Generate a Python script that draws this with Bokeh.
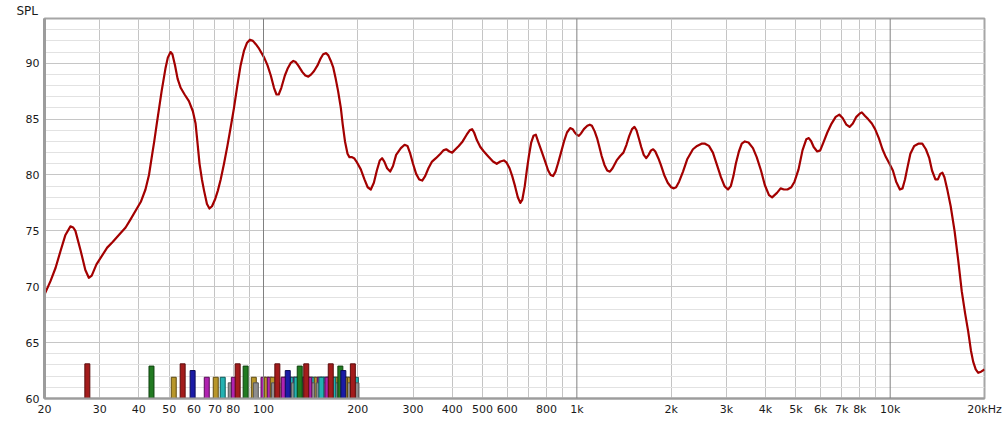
from bokeh.plotting import figure
from bokeh.models import Range1d, FixedTicker, Span, ColumnDataSource, Title
from bokeh.embed import file_html
from bokeh.resources import INLINE

# ---- measured response (Hz, dB SPL) ----
freq = [20.0, 20.9, 21.7, 22.5, 23.3, 24.2, 24.7, 25.1, 26.1, 27.0, 27.7, 28.3, 29.3, 31.7,
        33.0, 35.0, 36.3, 37.6, 40.6, 42.0, 43.1, 44.1, 44.8, 45.6, 47.3, 48.7, 49.5, 50.5,
        51.2, 52.2, 53.2, 54.4, 56.0, 57.8, 59.5, 60.7, 61.5, 62.5, 63.6, 64.6, 66.0, 67.2,
        68.5, 70.0, 71.5, 73.0, 74.8, 76.7, 78.5, 80.5, 82.5, 84.5, 86.6, 88.5, 90.5, 92.5,
        94.5, 96.8, 100.5, 103.0, 105.5, 108.0, 110.0, 111.8, 114.0, 117.0, 119.3, 122.0,
        124.5, 126.7, 129.0, 133.1, 136.0, 139.0, 142.0, 145.0, 148.7, 152.0, 155.0, 158.5,
        161.0, 164.0, 167.0, 170.0, 173.0, 176.5, 179.0, 182.0, 185.4, 188.0, 191.0, 194.6,
        198.0, 204.4, 210.0, 215.0, 220.0, 225.0, 230.0, 235.0, 239.0, 243.0, 248.0, 253.7,
        259.0, 265.0, 274.4, 282.0, 288.0, 294.0, 300.0, 307.0, 314.0, 321.0, 328.0, 336.0,
        345.0, 355.0, 367.0, 375.0, 383.0, 392.0, 400.0, 410.0, 420.0, 432.0, 445.0, 455.0,
        463.0, 470.0, 480.0, 492.0, 505.0, 520.0, 540.0, 555.0, 570.0, 585.0, 597.0, 610.0,
        622.0, 635.0, 648.0, 660.0, 670.0, 682.0, 693.0, 703.0, 715.0, 727.0, 740.0, 752.0,
        770.0, 790.0, 810.0, 825.0, 840.0, 855.0, 870.0, 890.0, 910.0, 930.0, 952.0, 970.0,
        985.0, 1000, 1015, 1030, 1053, 1080, 1100, 1117, 1140, 1160, 1178, 1200, 1225, 1250,
        1275, 1300, 1340, 1375, 1408, 1440, 1470, 1500, 1527, 1550, 1580, 1605, 1635, 1665,
        1695, 1725, 1752, 1780, 1820, 1854, 1900, 1950, 2000, 2040, 2074, 2120, 2182, 2250,
        2347, 2420, 2500, 2565, 2640, 2718, 2800, 2883, 2960, 3037, 3100, 3160, 3216, 3290,
        3360, 3437, 3530, 3648, 3750, 3870, 3980, 4104, 4200, 4352, 4470, 4583, 4700, 4835,
        4950, 5100, 5250, 5400, 5500, 5600, 5700, 5850, 5980, 6120, 6300, 6500, 6700, 6880,
        7050, 7250, 7420, 7600, 7800, 8000, 8120, 8300, 8500, 8740, 8950, 9200, 9450, 9690,
        9950, 10200, 10450, 10740, 10950, 11150, 11320, 11600, 11930, 12300, 12660, 13000,
        13330, 13600, 13940, 14200, 14450, 14680, 14900, 15240, 15600, 16050, 16500, 16920,
        17350, 17740, 18100, 18400, 18750, 19100, 19500, 20000]
spl = [69.3, 70.5, 71.7, 73.2, 74.6, 75.4, 75.3, 75.0, 73.2, 71.5, 70.8, 71.0, 72.0, 73.5,
       74.0, 74.8, 75.3, 76.0, 77.6, 78.7, 80.0, 81.8, 83.0, 84.5, 87.5, 89.6, 90.5, 91.0,
       90.8, 89.8, 88.6, 87.8, 87.2, 86.6, 85.7, 84.6, 83.0, 81.0, 79.6, 78.6, 77.4, 77.0,
       77.2, 77.8, 78.6, 79.6, 81.0, 82.6, 84.2, 86.0, 88.0, 89.8, 91.1, 91.8, 92.1, 92.0,
       91.7, 91.3, 90.5, 89.8, 88.9, 87.8, 87.2, 87.2, 87.8, 88.9, 89.5, 90.0,
       90.2, 90.1, 89.8, 89.2, 88.9, 88.8, 89.0, 89.3, 89.8, 90.4, 90.8, 90.9,
       90.7, 90.2, 89.6, 88.6, 87.5, 86.0, 84.5, 83.0, 81.9, 81.6, 81.6, 81.5,
       81.2, 80.5, 79.6, 78.9, 78.7, 79.3, 80.4, 81.3, 81.5, 81.2, 80.6, 80.3,
       80.8, 81.8, 82.4, 82.7, 82.6, 81.9, 81.0, 80.1, 79.6, 79.5, 79.9, 80.6,
       81.2, 81.5, 81.9, 82.2, 82.3, 82.1, 82.0, 82.3, 82.6, 83.0, 83.6, 84.0,
       84.1, 83.8, 83.1, 82.5, 82.1, 81.7, 81.2, 81.0, 81.2, 81.3, 81.1, 80.6,
       79.9, 79.0, 78.0, 77.5, 77.8, 79.0, 80.5, 81.7, 82.9, 83.5, 83.6, 83.0,
       82.2, 81.3, 80.4, 80.0, 79.9, 80.3, 81.0, 82.0, 83.0, 83.8, 84.2, 84.1,
       83.8, 83.6, 83.5, 83.7, 84.1, 84.4, 84.5, 84.4, 83.9, 83.3, 82.6, 81.7, 80.9, 80.4,
       80.3, 80.6, 81.3, 81.7, 82.0, 82.7, 83.5, 84.1, 84.3, 84.0, 83.2, 82.5, 81.8, 81.5,
       81.8, 82.2, 82.3, 82.1, 81.5, 80.9, 80.0, 79.3, 78.9, 78.8, 78.9, 79.4, 80.3, 81.4,
       82.3, 82.6, 82.8, 82.8, 82.6, 82.0, 80.9, 79.8, 79.0, 78.7, 79.0, 79.9, 81.0, 82.1,
       82.8, 83.0, 82.9, 82.4, 81.6, 80.4, 79.1, 78.2, 78.0, 78.4, 78.8, 78.7, 78.7, 78.9,
       79.4, 80.5, 82.2, 83.2, 83.3, 83.0, 82.5, 82.1, 82.2, 82.9, 83.8, 84.6, 85.2, 85.4,
       85.1, 84.5, 84.3, 84.6, 85.2, 85.5, 85.6, 85.3, 85.0, 84.6, 84.1, 83.3, 82.3, 81.6,
       81.0, 80.4, 79.4, 78.7, 78.8, 79.6, 80.5, 81.9, 82.6, 82.8, 82.8, 82.3,
       81.5, 80.4, 79.6, 79.6, 80.1, 80.2, 79.8, 78.6, 77.2, 75.0, 72.3, 69.6,
       67.6, 66.0, 64.3, 63.3, 62.6, 62.3, 62.4, 62.6]

# ---- indicator bars at the bottom (Hz, top dB, colour name) ----
bar_freq = [27.4, 43.9, 51.7, 55.2, 59.4, 65.9, 70.4, 74.1, 78.6, 80.4, 82.7, 87.7, 93.1, 94.5,
            100.0, 102.4, 104.7, 107.0, 116.0, 118.6, 121.3, 124.0, 126.7, 129.6, 132.5, 135.4,
            138.4, 141.5, 144.7, 147.9, 151.2, 154.6, 158.0, 161.6, 165.2, 168.9, 172.6, 176.5,
            180.4, 184.5, 188.6, 192.8, 197.1,
            108.0, 110.7, 120.0, 125.0, 131.0, 137.0, 143.0, 150.0, 156.0, 163.0, 170.0, 178.0,
            186.0, 194.0, 198.0,
            116.0, 127.5, 140.0, 153.0, 160.0, 167.0, 182.0,
            110.7, 119.5, 130.5, 136.9, 163.9, 175.9, 179.8, 192.8]
bar_top = [63.1, 62.9, 61.9, 63.1, 62.5, 61.9, 61.9, 61.9, 61.4, 61.9, 63.1, 62.9, 61.9, 61.4,
           61.9, 61.9, 61.9, 61.9, 61.9, 61.9, 61.9, 61.9, 61.9, 61.9, 61.9, 61.9,
           61.9, 61.9, 61.9, 61.9, 61.9, 61.9, 61.9, 61.9, 61.9, 61.9, 61.9, 61.9,
           61.9, 61.9, 61.9, 61.9, 61.9,
           61.4, 61.4, 61.4, 61.4, 61.4, 61.4, 61.4, 61.4, 61.4, 61.4, 61.4, 61.4,
           61.4, 61.4, 61.4,
           61.9, 61.9, 61.9, 61.9, 61.9, 61.9, 61.9,
           63.1, 62.5, 62.9, 63.1, 63.1, 62.9, 62.5, 63.1]
bar_kind = ["red", "green", "gold", "red", "blue", "magenta", "gold", "cyan", "gray", "magenta",
            "red", "green", "gold", "gray",
            "magenta", "gold", "magenta", "gold", "gold", "magenta", "gold", "cyan", "magenta",
            "cyan", "gold", "magenta", "cyan", "gold", "cyan", "gold", "magenta", "cyan", "cyan",
            "magenta", "gold", "cyan", "gold", "magenta", "gold", "cyan", "gold", "cyan", "cyan",
            "gray", "gray", "gray", "gray", "gray", "gray", "gray", "gray", "gray", "gray", "gray",
            "gray", "gray", "gray", "gray",
            "magenta", "cyan", "magenta", "cyan", "magenta", "cyan", "gold",
            "red", "blue", "green", "red", "red", "green", "blue", "red"]

fill_of = {"red": "#A31C1C", "green": "#217A21", "gold": "#B8962A", "blue": "#1B1BA6",
           "magenta": "#B023B0", "cyan": "#23B2B2", "gray": "#8E8E8E"}
edge_of = {"red": "#5A0C0C", "green": "#0F400F", "gold": "#5E4A10", "blue": "#0C0C55",
           "magenta": "#560C56", "cyan": "#0C5858", "gray": "#555555"}

# ---- axes ----
x_label_ticks = [20, 30, 40, 50, 60, 70, 80, 100, 200, 300, 400, 500, 600, 800,
                 1000, 2000, 3000, 4000, 5000, 6000, 7000, 8000, 10000, 20000]
x_label_text = {1000: "1k", 2000: "2k", 3000: "3k", 4000: "4k", 5000: "5k", 6000: "6k",
                7000: "7k", 8000: "8k", 10000: "10k", 20000: "20kHz"}
x_grid_ticks = [30, 40, 50, 60, 70, 80, 90, 200, 300, 400, 500, 600, 700, 800, 900,
                2000, 3000, 4000, 5000, 6000, 7000, 8000, 9000]
x_decades = [100, 1000, 10000]
y_major = [60, 65, 70, 75, 80, 85, 90]
y_minor = list(range(60, 95))

FONT = "DejaVu Sans"

p = figure(frame_width=940, frame_height=380, x_axis_type="log",
           x_range=Range1d(20, 20000), y_range=Range1d(60, 94),
           output_backend="svg", toolbar_location=None,
           min_border_left=44, min_border_right=22, min_border_top=17, min_border_bottom=24)
p.background_fill_color = "white"
p.border_fill_color = "white"
p.outline_line_color = "#A6A6A6"
p.outline_line_width = 2

# grids
p.xgrid.ticker = FixedTicker(ticks=x_grid_ticks)
p.xgrid.grid_line_color = "#C4C4C4"
p.ygrid.ticker = FixedTicker(ticks=y_major, minor_ticks=y_minor)
p.ygrid.grid_line_color = "#C6C6C6"
p.ygrid.minor_grid_line_color = "#E2E2E2"
for d in x_decades:
    p.add_layout(Span(location=d, dimension="height", line_color="#808080", line_width=1))

# axes styling
p.xaxis.ticker = FixedTicker(ticks=x_label_ticks)
p.xaxis.major_label_overrides = {k: v for k, v in x_label_text.items()}
p.yaxis.ticker = FixedTicker(ticks=y_major)
for ax in (p.xaxis, p.yaxis):
    ax.major_tick_line_color = None
    ax.minor_tick_line_color = None
    ax.major_tick_out = 0
    ax.major_tick_in = 0
    ax.major_label_text_font = FONT
    ax.major_label_text_font_size = "11px"
    ax.major_label_text_color = "#1A1A1A"
    ax.axis_line_color = "#9C9C9C"
p.yaxis.axis_line_width = 3
p.xaxis.axis_line_width = 2
p.yaxis.major_label_standoff = 5
p.xaxis.major_label_standoff = 4

# bars
src = ColumnDataSource(dict(
    left=[f / 1.0185 for f in bar_freq],
    right=[f * 1.0185 for f in bar_freq],
    bottom=[60] * len(bar_freq),
    top=bar_top,
    fill=[fill_of[k] for k in bar_kind],
    edge=[edge_of[k] for k in bar_kind],
))
p.quad(left="left", right="right", bottom="bottom", top="top", source=src,
       fill_color="fill", line_color="edge", line_width=1)

# response curve
p.line(freq, spl, line_color="#A30000", line_width=2.2, line_join="round")

# SPL label
p.add_layout(Title(text="SPL", align="left", offset=-28, standoff=2,
                   text_font=FONT, text_font_size="12px", text_font_style="normal",
                   text_color="#1A1A1A"), "above")

open("out.html", "w").write(file_html(p, INLINE))
